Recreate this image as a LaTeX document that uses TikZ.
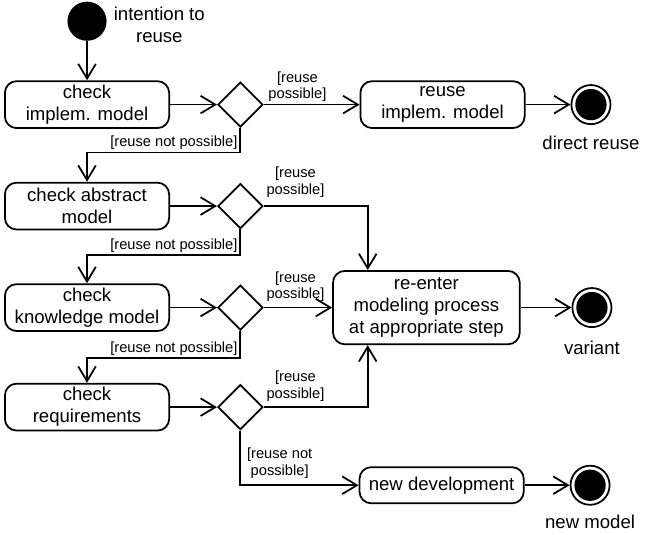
\documentclass[tikz,border=0pt]{standalone}
\usepackage{fontspec}
\setmainfont{Liberation Sans}
\usepackage{tikz}
\usetikzlibrary{arrows.meta,positioning,shapes.geometric}
\newcommand\actfont{\fontsize{9.5}{11.3}\selectfont}
\newcommand\grdfont{\fontsize{7.5}{8.5}\selectfont}

\begin{document}
\begin{tikzpicture}[
  act/.style={draw,line width=0.9pt,rounded corners=6pt,minimum width=84pt,minimum height=24pt,align=center,font=\actfont,inner sep=1pt},
  dec/.style={draw,line width=0.9pt,diamond,minimum width=23pt,minimum height=23pt,inner sep=0pt},
  ini/.style={circle,fill=black,minimum size=20pt,inner sep=0pt},
  fin/.style={circle,draw,line width=0.9pt,minimum size=20pt,inner sep=0pt,
    path picture={\fill (path picture bounding box.center) circle (8pt);}},
  lbl/.style={font=\actfont,align=center},
  grd/.style={font=\grdfont,align=center,inner sep=1pt},
  ar/.style={-{Straight Barb[length=7.5pt,width=9pt]},line width=0.9pt}
]
\node[act] (chkimpl) {check\\implem. model};
\node[ini,above=20pt of chkimpl] (start) {};
\node[lbl,right=0pt of start,yshift=-2pt] (startlbl) {intention to\\reuse};
\node[dec,right=24pt of chkimpl] (d1) {};
\node[act,right=49pt of d1] (reuse) {reuse\\implem. model};
\node[fin,right=23pt of reuse] (endreuse) {};
\node[lbl,below=2pt of endreuse] (endreuselbl) {direct reuse};

\node[act,below=27pt of chkimpl] (chkabs) {check abstract\\model};
\node[dec,right=24pt of chkabs] (d2) {};
\node[act,below=27pt of chkabs] (chkknow) {check\\knowledge model};
\node[dec,right=24pt of chkknow] (d3) {};
\node[act,right=35pt of d3,minimum width=95.5pt,minimum height=37.5pt] (reenter)
  {re-enter\\modeling process\\at appropriate step};
\node[fin,right=26pt of reenter] (endvar) {};
\node[lbl,below=3pt of endvar] (endvarlbl) {variant};

\node[act,below=26pt of chkknow] (chkreq) {check\\requirements};
\node[dec,right=24pt of chkreq] (d4) {};
\coordinate[below=28pt of d4.south] (k4);
\node[act,minimum height=18.5pt,right=60.5pt of k4] (newdev) {new development};
\node[fin,right=23pt of newdev] (endnew) {};
\node[lbl,below=1pt of endnew] (endnewlbl) {new model};

\draw[ar] (start) -- (chkimpl);
\draw[ar] (chkimpl) -- (d1);
\draw[ar] (d1) -- node[grd,pos=0,anchor=south west,xshift=1pt] {[reuse\\possible]} (reuse);
\draw[ar] (reuse) -- (endreuse);
\draw[ar] (d1.south) -- ++(0,-12.5pt) node[grd,anchor=south east] {[reuse not possible]} -| (chkabs.north);

\draw[ar] (chkabs) -- (d2);
\draw[ar] (d2.east) -| node[grd,pos=0,anchor=south west,yshift=3pt] {[reuse\\possible]} ([xshift=-30pt]reenter.north);
\draw[ar] (d2.south) -- ++(0,-13pt) node[grd,anchor=south east] {[reuse not possible]} -| (chkknow.north);

\draw[ar] (chkknow) -- (d3);
\draw[ar] (d3) -- node[grd,pos=0,anchor=south west,yshift=1.5pt] {[reuse\\possible]} (reenter);
\draw[ar] (reenter) -- (endvar);
\draw[ar] (d3.south) -- ++(0,-14pt) node[grd,anchor=south east] {[reuse not possible]} -| (chkreq.north);

\draw[ar] (chkreq) -- (d4);
\draw[ar] (d4.east) -| node[grd,pos=0,anchor=south west,yshift=1.5pt] {[reuse\\possible]} ([xshift=-30pt]reenter.south);
\draw[ar] (d4.south) |- node[grd,pos=0.5,anchor=south west,xshift=2pt,yshift=2pt] {[reuse not\\possible]} (newdev);
\draw[ar] (newdev) -- (endnew);

\useasboundingbox (-44.5pt,53.5pt) rectangle (278.5pt,-215.5pt);
\end{tikzpicture}
\end{document}
